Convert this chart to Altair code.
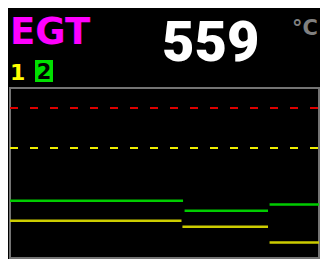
import altair as alt
import pandas as pd

# Data
series = ["2", "2", "2", "1", "1", "1"]
seg_start = [0, 56.5, 84, 0, 55.8, 84]
seg_end = [56, 83.5, 100, 55.5, 83.5, 100]
seg_value = [568, 543, 559, 518, 503, 464]
limit_names = ["red", "yellow"]
limit_values = [800, 700]
title_text = "EGT"
readout = "559"
unit = "°C"
channel_labels = ["1", "2"]

X_DOMAIN = [0, 100]
Y_DOMAIN = [425, 850]

segs = pd.DataFrame({"series": series, "x": seg_start, "x2": seg_end, "v": seg_value})
limits = pd.DataFrame({"name": limit_names, "v": limit_values, "x": [0, 0], "x2": [100, 100]})

xs = alt.Scale(domain=X_DOMAIN, nice=False, zero=False)
ys = alt.Scale(domain=Y_DOMAIN, nice=False, zero=False)

color_scale = alt.Scale(domain=["1", "2"], range=["#CCCC00", "#00CC00"])
limit_scale = alt.Scale(domain=["red", "yellow"], range=["#DD0000", "#EEEE00"])

limit_layer = alt.Chart(limits).mark_rule(strokeWidth=2, strokeDash=[8, 12]).encode(
    x=alt.X("x:Q", scale=xs, axis=None),
    x2="x2:Q",
    y=alt.Y("v:Q", scale=ys, axis=None),
    color=alt.Color("name:N", scale=limit_scale, legend=None),
)

seg_layer = alt.Chart(segs).mark_rule(strokeWidth=2.5).encode(
    x=alt.X("x:Q", scale=xs, axis=None),
    x2="x2:Q",
    y=alt.Y("v:Q", scale=ys, axis=None),
    color=alt.Color("series:N", scale=color_scale, legend=None),
)

title_layer = alt.Chart(pd.DataFrame({"t": [title_text]})).mark_text(
    font="DejaVu Sans", fontSize=37, fontWeight="bold", color="#FF00FF", align="left", baseline="alphabetic"
).encode(text="t:N", x=alt.value(0), y=alt.value(-44))

readout_layer = alt.Chart(pd.DataFrame({"t": [readout]})).mark_text(
    font="Roboto", fontSize=56, fontWeight=900, color="#FFFFFF", align="left", baseline="alphabetic"
).encode(text="t:N", x=alt.value(152), y=alt.value(-27))

unit_layer = alt.Chart(pd.DataFrame({"t": [unit]})).mark_text(
    font="DejaVu Sans", fontSize=21, fontWeight="bold", color="#808080", align="right", baseline="alphabetic"
).encode(text="t:N", x=alt.value(308), y=alt.value(-53))

ch1_layer = alt.Chart(pd.DataFrame({"t": [channel_labels[0]]})).mark_text(
    font="DejaVu Sans", fontSize=22, fontWeight="bold", color="#FFFF00", align="left", baseline="alphabetic"
).encode(text="t:N", x=alt.value(0), y=alt.value(-8))

box_layer = alt.Chart(pd.DataFrame({"t": [channel_labels[1]]})).mark_rect(color="#00E000").encode(
    x=alt.value(25), x2=alt.value(43), y=alt.value(-28), y2=alt.value(-6)
)

ch2_layer = alt.Chart(pd.DataFrame({"t": [channel_labels[1]]})).mark_text(
    font="DejaVu Sans", fontSize=21, fontWeight="bold", color="#000000", align="center", baseline="alphabetic"
).encode(text="t:N", x=alt.value(34), y=alt.value(-9))

chart = alt.layer(
    limit_layer, seg_layer, title_layer, readout_layer, unit_layer, ch1_layer, box_layer, ch2_layer
).resolve_scale(color="independent").properties(
    width=309, height=170,
    padding={"left": 2, "top": 80, "right": 1, "bottom": 1},
    autosize=alt.AutoSizeParams(type="none"),
    background="#000000",
).configure_view(stroke="#747474", strokeWidth=2)

chart.save("out.html", embed_options={"renderer": "svg", "actions": False})
